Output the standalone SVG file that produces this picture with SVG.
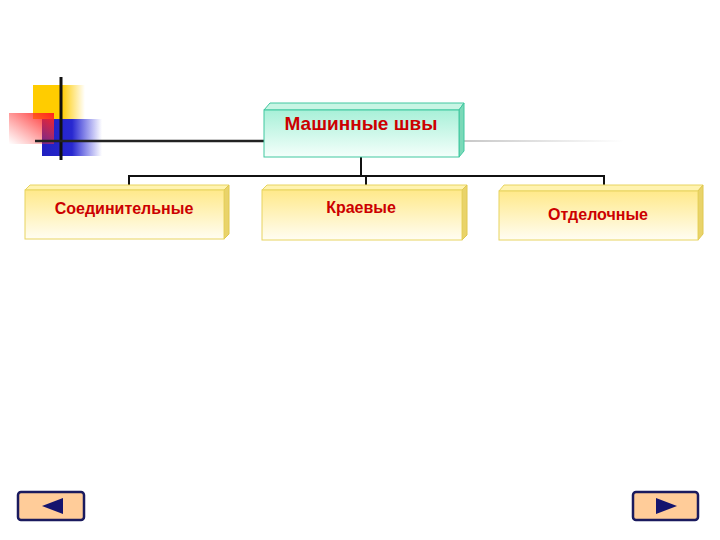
<svg xmlns="http://www.w3.org/2000/svg" width="720" height="540" viewBox="0 0 720 540">
<style>
.conn{stroke:#111;stroke-width:2;fill:none}
.lbl{font-family:"Liberation Sans",Arial,sans-serif;font-weight:bold;fill:#cc0000;text-anchor:middle}
.yfront{fill:url(#yg);stroke:#e8d460;stroke-width:1}
.ytop{fill:#fff3b0;stroke:#e8d460;stroke-width:1}
.yside{fill:#e9d36a;stroke:#e0c850;stroke-width:1}
.nav{fill:#ffcc99;stroke:#1a1a5e;stroke-width:2.5}
.tri{fill:#14146e}
</style>
<defs>
<linearGradient id="yg" x1="0" y1="0" x2="0" y2="1">
<stop offset="0" stop-color="#ffe98a"/>
<stop offset="1" stop-color="#fffdf2"/>
</linearGradient>
<linearGradient id="mg" x1="0" y1="0" x2="0" y2="1">
<stop offset="0" stop-color="#a8f0d8"/>
<stop offset="1" stop-color="#f4fffb"/>
</linearGradient>
<linearGradient id="yel" x1="0" y1="0" x2="1" y2="0">
<stop offset="0" stop-color="#ffcc00"/>
<stop offset="0.55" stop-color="#ffcc00"/>
<stop offset="1" stop-color="#ffcc00" stop-opacity="0"/>
</linearGradient>
<linearGradient id="blu" x1="0" y1="0" x2="1" y2="0">
<stop offset="0" stop-color="#2020c0"/>
<stop offset="0.5" stop-color="#2828d0"/>
<stop offset="1" stop-color="#3030e0" stop-opacity="0"/>
</linearGradient>
<linearGradient id="red" x1="1" y1="0" x2="0" y2="1">
<stop offset="0" stop-color="#ff2020"/>
<stop offset="1" stop-color="#ff4040" stop-opacity="0"/>
</linearGradient>
<linearGradient id="gry" x1="0" y1="0" x2="1" y2="0">
<stop offset="0" stop-color="#c8c8c8"/>
<stop offset="1" stop-color="#c8c8c8" stop-opacity="0"/>
</linearGradient>
</defs>

<g id="logo">
<rect x="33" y="85" width="52" height="34" fill="url(#yel)"/>
<rect x="42" y="119" width="60" height="37" fill="url(#blu)"/>
<rect x="9" y="113" width="45" height="31" fill="url(#red)"/>
<line x1="61" y1="77" x2="61" y2="160" stroke="#111" stroke-width="3"/>
<line x1="35" y1="141" x2="265" y2="141" stroke="#222" stroke-width="2.5"/>
<rect x="464" y="140" width="160" height="2" fill="url(#gry)"/>
</g>

<g id="connectors">
<polyline class="conn" points="361,157 361,176"/>
<polyline class="conn" points="129,186 129,176 604,176 604,186"/>
<polyline class="conn" points="366,176 366,186"/>
</g>

<g id="root">
<polygon points="264,110 270,103 464,103 459,110" fill="#c8f5e4" stroke="#40c8a0" stroke-width="1"/>
<polygon points="459,110 464,103 464,151 459,157" fill="#7ad9b8" stroke="#40c8a0" stroke-width="1"/>
<rect x="264" y="110" width="195" height="47" fill="url(#mg)" stroke="#40c8a0" stroke-width="1"/>
<text class="lbl" x="361" y="130" font-size="19">Машинные швы</text>
</g>

<g id="n1">
<polygon class="ytop" points="25,190 30,185 229,185 224,190"/>
<polygon class="yside" points="224,190 229,185 229,234 224,239"/>
<rect class="yfront" x="25" y="190" width="199" height="49"/>
<text class="lbl" x="124" y="214" font-size="16">Соединительные</text>
</g>

<g id="n2">
<polygon class="ytop" points="262,190 267,185 467,185 462,190"/>
<polygon class="yside" points="462,190 467,185 467,235 462,240"/>
<rect class="yfront" x="262" y="190" width="200" height="50"/>
<text class="lbl" x="361" y="213" font-size="16">Краевые</text>
</g>

<g id="n3">
<polygon class="ytop" points="499,191 504,185 703,185 698,191"/>
<polygon class="yside" points="698,191 703,185 703,234 698,240"/>
<rect class="yfront" x="499" y="191" width="199" height="49"/>
<text class="lbl" x="598" y="220" font-size="16">Отделочные</text>
</g>

<g id="prev">
<rect class="nav" x="18" y="492" width="66" height="28" rx="3"/>
<polygon class="tri" points="42,506 63,498 63,514"/>
</g>
<g id="next">
<rect class="nav" x="633" y="492" width="65" height="28" rx="3"/>
<polygon class="tri" points="677,506 656,498 656,514"/>
</g>
</svg>
